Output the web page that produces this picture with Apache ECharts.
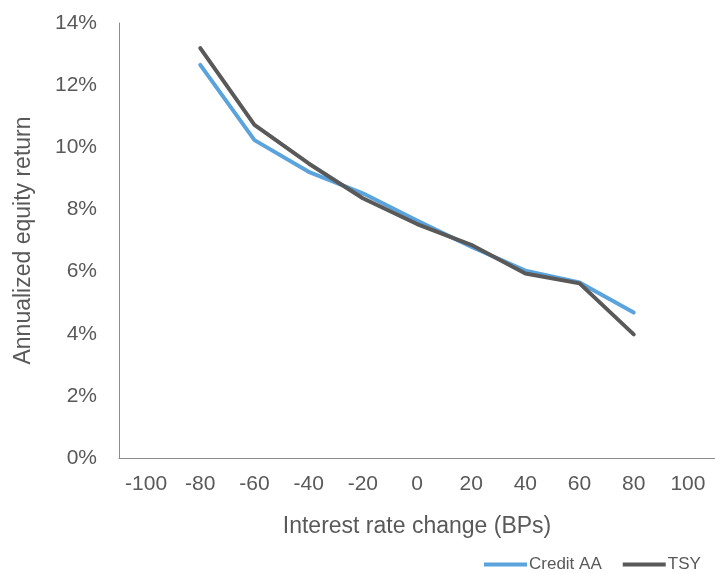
<!DOCTYPE html>
<html>
<head>
<meta charset="utf-8">
<title>Equity return vs rate change</title>
<script src="https://cdn.jsdelivr.net/npm/echarts@6/dist/echarts.min.js"></script>
<style>
  html, body { margin: 0; padding: 0; background: #fff; }
  #main { width: 715px; height: 573px; }
</style>
</head>
<body>
<div id="main"></div>
<script type="text/javascript">
// rate change buckets (BPs)
var categories = ['-100', '-80', '-60', '-40', '-20', '0', '20', '40', '60', '80', '100'];
// annualized equity return, %
var creditAA = [null, 12.65, 10.23, 9.21, 8.52, 7.64, 6.80, 6.03, 5.65, 4.68, null];
var tsy = [null, 13.19, 10.72, 9.48, 8.36, 7.53, 6.86, 5.94, 5.62, 3.98, null];

var textColor = '#595959';
var font = 'Liberation Sans, Arial, sans-serif';

var myChart = echarts.init(document.getElementById('main'));
myChart.setOption({
    animation: false,
    textStyle: { fontFamily: font, color: textColor },
    grid: { left: 119, top: 23, width: 602, bottom: 115, containLabel: false },
    legend: {
        data: ['Credit AA', 'TSY'],
        left: 484,
        top: 556,
        padding: 0,
        icon: 'rect',
        itemWidth: 43,
        itemHeight: 4,
        itemGap: 21,
        textStyle: { fontSize: 17, color: textColor, fontFamily: font, padding: [0, 0, 0, -3] }
    },
    xAxis: {
        type: 'category',
        data: categories,
        boundaryGap: true,
        name: 'Interest rate change (BPs)',
        nameLocation: 'middle',
        nameGap: 57,
        nameTextStyle: { fontSize: 23, color: textColor },
        axisLine: { lineStyle: { color: '#8c8c8c', width: 1 } },
        axisTick: { show: false },
        axisLabel: { fontSize: 21, color: textColor, margin: 16, interval: 0 },
        splitLine: { show: false }
    },
    yAxis: {
        type: 'value',
        min: 0,
        max: 14,
        interval: 2,
        name: 'Annualized equity return',
        nameLocation: 'middle',
        nameGap: 84,
        nameTextStyle: { fontSize: 23, color: textColor },
        axisLine: { show: true, lineStyle: { color: '#8c8c8c', width: 1 } },
        axisTick: { show: false },
        axisLabel: { fontSize: 21, color: textColor, margin: 22, formatter: '{value}%' },
        splitLine: { show: false }
    },
    series: [{
        name: 'Credit AA',
        type: 'line',
        data: creditAA,
        symbol: 'none',
        itemStyle: { color: '#5ba3dc' },
        lineStyle: { color: '#5ba3dc', width: 4, cap: 'round', join: 'round' }
    }, {
        name: 'TSY',
        type: 'line',
        data: tsy,
        symbol: 'none',
        itemStyle: { color: '#595959' },
        lineStyle: { color: '#595959', width: 4, cap: 'round', join: 'round' }
    }]
});
</script>
</body>
</html>
